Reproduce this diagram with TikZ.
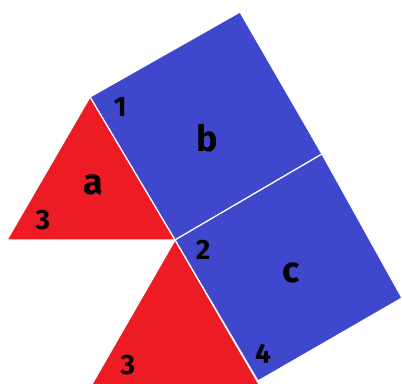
\documentclass[tikz,border=0pt]{standalone}
\usepackage{fontspec}
\setmainfont{Fira Sans}
\definecolor{trired}{RGB}{237,28,36}
\definecolor{sqblue}{RGB}{63,72,204}
\begin{document}
\begin{tikzpicture}[x=0.5pt, y=-0.5pt,
  tri/.style={fill=trired, draw=white, line width=0.6pt, line join=round},
  sq/.style={fill=sqblue, draw=white, line width=0.6pt, line join=round},
  lbl/.style={font=\bfseries\fontsize{18}{18}\selectfont, text=black, inner sep=0pt},
  num/.style={font=\bfseries\fontsize{14}{14}\selectfont, text=black, inner sep=0pt}
]
\useasboundingbox (0,0) rectangle (402,384);
\clip (0,0) rectangle (402,384);
% corners (pixel grid, y downwards)
\coordinate (Atop) at (90,97);
\coordinate (Aleft) at (7,240);
\coordinate (P) at (175,240);
\coordinate (Btop) at (240,12);
\coordinate (R) at (322,154);
\coordinate (Cright) at (402,298);
\coordinate (Cbot) at (258,381);
\coordinate (Dright) at (260,386);
\coordinate (Dleft) at (91,386);
% squares
\draw[sq] (Atop) -- (Btop) -- (R) -- (P) -- cycle;
\draw[sq] (P) -- (R) -- (Cright) -- (Cbot) -- cycle;
% triangles
\draw[tri] (Atop) -- (P) -- (Aleft) -- cycle;
\draw[tri] (P) -- (Dright) -- (Dleft) -- cycle;
% labels
\node[lbl] (la) at (93,185) {a};
\node[lbl] (lb) at (207,138) {b};
\node[lbl] (lc) at (291,273) {c};
\node[num] (n1) at (120,107) {1};
\node[num] (n3a) at (43,220) {3};
\node[num] (n2) at (203,250) {2};
\node[num] (n4) at (263,354) {4};
\node[num] (n3b) at (128,365) {3};
\end{tikzpicture}
\end{document}
